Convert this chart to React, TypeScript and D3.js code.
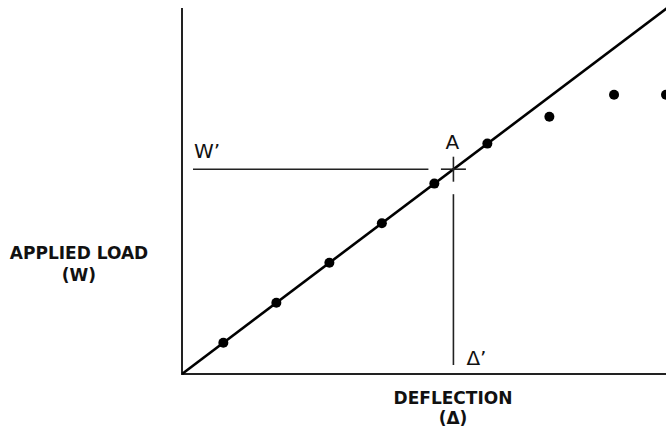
import React, { useRef, useEffect } from 'react';
import * as d3 from 'd3';

// measured test points (deflection, applied load) in arbitrary units
const deflections = [0.78, 1.78, 2.78, 3.77, 4.76, 5.76, 6.93, 8.15, 9.13];
const loads = [0.78, 1.78, 2.78, 3.77, 4.76, 5.76, 6.43, 6.98, 6.98];

// elastic line end points and the marked point A
const lineDeflections = [0, 9.2];
const lineLoads = [0, 9.2];
const pointA = [5.12, 5.12];

export default function App() {
  const ref = useRef<SVGSVGElement>(null);

  useEffect(() => {
    document.body.style.margin = '0';
    const svg = d3.select(ref.current);
    svg.selectAll('*').remove();

    const width = 666;
    const height = 430;
    const x = d3.scaleLinear().domain([0, 9.13]).range([182, 666]);
    const y = d3.scaleLinear().domain([0, 9.15]).range([374, 8]);

    // axes (plain lines, no ticks)
    svg.append('line')
      .attr('x1', x(0)).attr('x2', x(0))
      .attr('y1', y(0) + 1).attr('y2', y(9.15))
      .attr('stroke', '#222').attr('stroke-width', 2);
    svg.append('line')
      .attr('x1', x(0) - 1).attr('x2', width)
      .attr('y1', y(0)).attr('y2', y(0))
      .attr('stroke', '#222').attr('stroke-width', 2);

    // straight line through origin
    const line = d3.line<number>()
      .x((_, i) => x(lineDeflections[i]))
      .y((_, i) => y(lineLoads[i]));
    svg.append('path')
      .datum(lineDeflections)
      .attr('d', line)
      .attr('fill', 'none')
      .attr('stroke', '#000')
      .attr('stroke-width', 2.6);

    // data points
    svg.selectAll('.pt')
      .data(deflections)
      .enter().append('circle')
      .attr('class', 'pt')
      .attr('cx', d => x(d))
      .attr('cy', (_, i) => y(loads[i]))
      .attr('r', 5)
      .attr('fill', '#000');

    // point A cross + reference lines
    const ax = x(pointA[0]);
    const ay = y(pointA[1]);
    const thin = (x1: number, y1: number, x2: number, y2: number) =>
      svg.append('line')
        .attr('x1', x1).attr('y1', y1).attr('x2', x2).attr('y2', y2)
        .attr('stroke', '#222').attr('stroke-width', 1.6);
    thin(ax - 12.5, ay, ax + 12.5, ay);
    thin(ax, ay - 12.5, ax, ay + 12.5);
    thin(x(0) + 11, ay, ax - 25, ay);
    thin(ax, ay + 25, ax, y(0) - 9);

    const font = '"DejaVu Sans", Verdana, sans-serif';
    const label = (tx: number, ty: number, t: string, anchor = 'start', size = 20, weight = 'normal') =>
      svg.append('text')
        .attr('x', tx).attr('y', ty)
        .attr('text-anchor', anchor)
        .style('font-family', font)
        .style('font-size', `${size}px`)
        .style('font-weight', weight)
        .attr('fill', '#111')
        .text(t);

    label(x(0) + 12, ay - 11, 'W’');
    label(ax - 1, ay - 20, 'A', 'middle');
    label(ax + 13, y(0) - 9, 'Δ’');

    label(79, 259, 'APPLIED LOAD', 'middle', 17, 'bold');
    label(79, 281, '(W)', 'middle', 17, 'bold');
    label(453, 404, 'DEFLECTION', 'middle', 17, 'bold');
    label(453, 424, '(Δ)', 'middle', 17, 'bold');

    svg.attr('width', width).attr('height', height);
  }, []);

  return <svg ref={ref} width={666} height={430} style={{ display: 'block' }}></svg>;
}
